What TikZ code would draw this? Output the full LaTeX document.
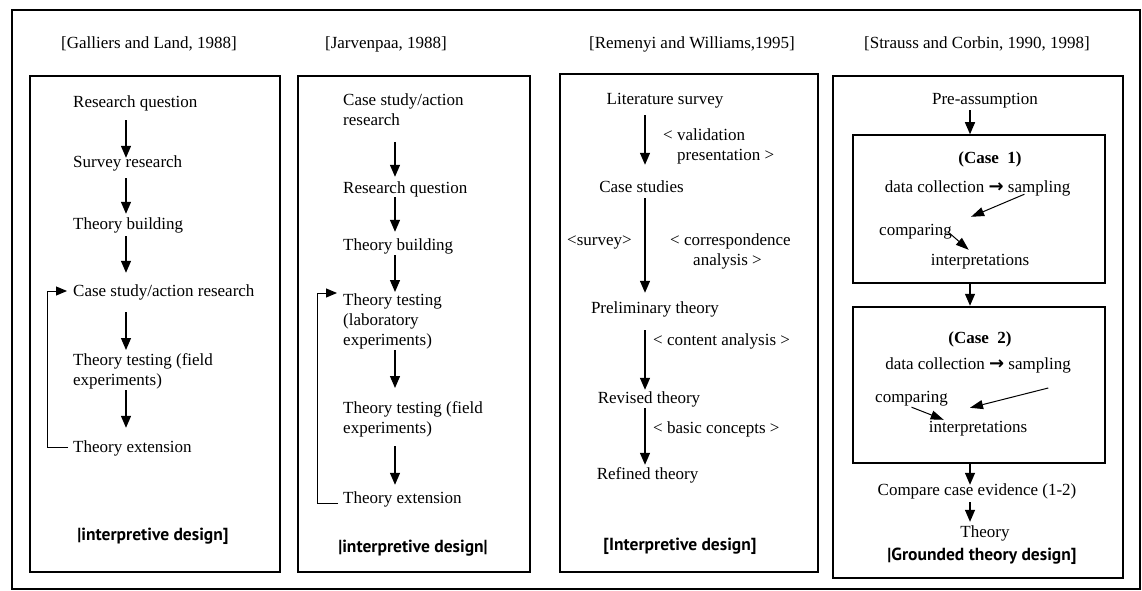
\documentclass[tikz,border=0pt]{standalone}
\usepackage{fontspec}
\setmainfont{Liberation Serif}
\newfontfamily\dsgfont{PT Sans}
\newfontfamily\symfont{DejaVu Sans}
\usetikzlibrary{arrows.meta,calc}

\newcommand{\flowto}{{\symfont\bfseries\fontsize{18}{18}\selectfont →}}

\tikzset{
  txt/.style={font=\fontsize{17}{20}\selectfont, inner sep=1pt, text height=11pt, text depth=3pt},
  mtxt/.style={font=\fontsize{17}{20}\selectfont, inner sep=1pt, align=left},
  ttl/.style={font=\fontsize{17}{20}\selectfont, inner sep=1pt},
  dsg/.style={font=\dsgfont\bfseries\fontsize{17.5}{20}\selectfont, inner sep=1pt},
  casettl/.style={font=\bfseries\fontsize{17}{20}\selectfont, inner sep=1pt, text height=11pt, text depth=3pt},
  arr/.style={line width=1.3pt, -{Triangle[width=10pt,length=12pt]}},
  smallarr/.style={line width=1pt, -{Triangle[width=9pt,length=13pt]}},
  fbarr/.style={line width=1pt, -{Triangle[width=9pt,length=11pt]}},
  panel/.style={line width=2pt},
  casebox/.style={draw, line width=1.5pt, inner sep=0pt},
}

\begin{document}
\begin{tikzpicture}[x=1pt,y=-1pt]
\useasboundingbox (0,0) rectangle (1142,591);

% outer frame and the four panels
\draw[line width=1.5pt] (12,10) rectangle (1140,589);
\draw[panel] (30,76) rectangle (280,572);
\draw[panel] (298,76) rectangle (530,572);
\draw[panel] (560,74) rectangle (818,572);
\draw[line width=1.6pt] (833,76) rectangle (1123,578);

% column headings
\node[ttl] (h1) at (149,44) {[Galliers and Land, 1988]};
\node[ttl] (h2) at (386,44) {[Jarvenpaa, 1988]};
\node[ttl] (h3) at (692,44) {[Remenyi and Williams,1995]};
\node[ttl] (h4) at (977,44) {[Strauss and Corbin, 1990, 1998]};

% ---------- Galliers and Land ----------
\coordinate (ax1) at (126,0);
\coordinate (fb1) at (47,291);
\node[txt, anchor=west] (rq1) at (72,103) {Research question};
\node[txt, anchor=west] (sr1) at (72,163) {Survey research};
\node[txt, anchor=west] (tb1) at (72,225) {Theory building};
\node[txt, anchor=west] (cs1) at (72,292) {Case study/action research};
\node[mtxt, anchor=north west] (tt1) at (72,352.5) {Theory testing (field\\experiments)};
\node[txt, anchor=west] (te1) at (72,448) {Theory extension};
\node[dsg] (d1) at (153,536) {|interpretive design]};

\draw[arr, shorten <=9pt, shorten >=-3pt] (rq1.south -| ax1) -- (sr1.north -| ax1);
\draw[arr, shorten <=7pt, shorten >=3pt] (sr1.south -| ax1) -- (tb1.north -| ax1);
\draw[arr, shorten <=3pt, shorten >=11pt] (tb1.south -| ax1) -- (cs1.north -| ax1);
\draw[arr, shorten <=12pt, shorten >=2.5pt] (cs1.south -| ax1) -- (tt1.north -| ax1);
\draw[arr, shorten <=0pt, shorten >=12pt] (tt1.south -| ax1) -- (te1.north -| ax1);
\draw[fbarr] ($(te1.west)+(-4,-1)$) -| (fb1) -- ($(cs1.west)+(-5,-1)$);

% ---------- Jarvenpaa ----------
\coordinate (ax2) at (395,0);
\coordinate (fb2) at (317,293);
\node[mtxt, anchor=north west] (cs2) at (342,92.5) {Case study/action\\research};
\node[txt, anchor=west] (rq2) at (342,189) {Research question};
\node[txt, anchor=west] (tb2) at (342,246) {Theory building};
\node[mtxt, anchor=north west] (tt2a) at (342,292.5) {Theory testing\\(laboratory\\experiments)};
\node[mtxt, anchor=north west] (tt2b) at (342,400.5) {Theory testing (field\\experiments)};
\node[txt, anchor=west] (te2) at (342,499) {Theory extension};
\node[dsg] (d2) at (413,548) {|interpretive design|};

\draw[arr, shorten <=15pt, shorten >=4pt] (cs2.south -| ax2) -- (rq2.north -| ax2);
\draw[arr, shorten <=0pt, shorten >=6pt] (rq2.south -| ax2) -- (tb2.north -| ax2);
\draw[arr, shorten <=1pt, shorten >=0.5pt] (tb2.south -| ax2) -- (tt2a.north -| ax2);
\draw[arr, shorten <=0pt, shorten >=12.5pt] (tt2a.south -| ax2) -- (tt2b.north -| ax2);
\draw[arr, shorten <=8pt, shorten >=6pt] (tt2b.south -| ax2) -- (te2.north -| ax2);
\draw[fbarr] ($(te2.west)+(-4,4)$) -| (fb2) -- ($(tt2a.north west)+(-5,0.5)$);

% ---------- Remenyi and Williams ----------
\coordinate (ax3) at (645,0);
\node[txt] (lit) at (665,101) {Literature survey};
\node[txt] (cs3) at (641.5,188) {Case studies};
\node[txt] (pre3) at (655,309) {Preliminary theory};
\node[txt] (rev) at (649,399) {Revised theory};
\node[txt] (ref) at (647.5,475) {Refined theory};
\node[dsg] (d3) at (680,546) {[Interpretive design]};
\node[mtxt, anchor=north west] (val) at (662,127.5) {< validation\\\hspace*{14pt}presentation >};
\node[txt, anchor=west] (srv) at (566,241) {<survey>};
\node[mtxt, anchor=north west] (corr) at (669,232.5) {< correspondence\\\hspace*{23pt}analysis >};
\node[txt, anchor=west] (cont) at (652,341) {< content analysis >};
\node[txt, anchor=west] (basic) at (652,429) {< basic concepts >};

\draw[arr, shorten <=6pt, shorten >=15pt] (lit.south -| ax3) -- (cs3.north -| ax3);
\draw[arr, shorten <=2pt, shorten >=8pt] (cs3.south -| ax3) -- (pre3.north -| ax3);
\draw[arr, shorten <=13pt, shorten >=1pt] (pre3.south -| ax3) -- (rev.north -| ax3);
\draw[arr, shorten <=1pt, shorten >=2pt] (rev.south -| ax3) -- (ref.north -| ax3);

% ---------- Strauss and Corbin ----------
\coordinate (ax4) at (970,0);
\node[txt] (pa) at (985,101) {Pre-assumption};
\node[casebox, minimum width=252pt, minimum height=148pt] (box1) at (979,209) {};
\node[casettl] (c1) at (990,159) {(Case\ \ 1)};
\node[txt] (dc1) at (977.5,188) {data collection \flowto{} sampling};
\node[txt, anchor=west] (cmp1) at (878,231) {comparing};
\node[txt] (int1) at (980,261) {interpretations};
\node[casebox, line width=2.5pt, minimum width=252pt, minimum height=156pt] (box2) at (979,385) {};
\node[casettl] (c2) at (980,339) {(Case\ \ 2)};
\node[txt] (dc2) at (978,365) {data collection \flowto{} sampling};
\node[txt, anchor=west] (cmp2) at (874,398) {comparing};
\node[txt] (int2) at (978,428) {interpretations};
\node[txt] (cce) at (977,491) {Compare case evidence (1-2)};
\node[txt] (th) at (985,533) {Theory};
\node[dsg] (d4) at (982,556) {|Grounded theory design]};

\draw[arr, shorten <=1pt] (pa.south -| ax4) -- (box1.north -| ax4);
\draw[smallarr] ($(dc1.south east)+(-47,-2)$) -- ($(cmp1.north east)+(18,-6)$);
\draw[smallarr] ($(cmp1.east)+(-5,1)$) -- ($(int1.north west)+(39,-3)$);
\draw[arr] (box1.south -| ax4) -- (box2.north -| ax4);
\draw[smallarr] ($(box2.east)+(-58,3)$) -- ($(int2.north)+(-8,-12)$);
\draw[smallarr] ($(cmp2.south)+(0,1)$) -- ($(int2.north west)+(16,0)$);
\draw[arr, shorten >=-2pt] (box2.south -| ax4) -- (cce.north -| ax4);
\draw[arr, shorten <=3pt, shorten >=3pt] (cce.south -| ax4) -- (th.north -| ax4);
\end{tikzpicture}
\end{document}
